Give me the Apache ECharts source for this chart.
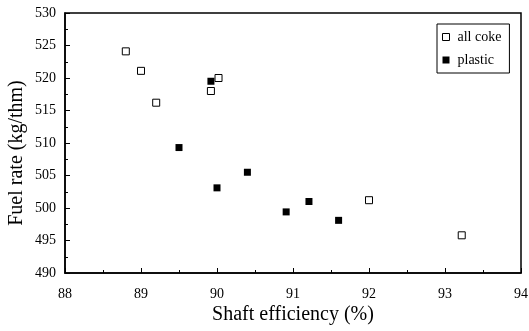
<!DOCTYPE html>
<html><head><meta charset="utf-8">
<script src="https://cdn.jsdelivr.net/npm/echarts@6/dist/echarts.min.js"></script>
<style>html,body{margin:0;padding:0;background:#fff}#c{width:529px;height:331px}</style>
</head><body><div id="c"></div>
<script>
const allCokeX = [88.8, 89.0, 89.2, 89.92, 90.02, 92.0, 93.22];
const allCokeY = [524.1, 521.1, 516.2, 518.0, 520.0, 501.2, 495.8];
const plasticX = [89.92, 89.5, 90.0, 90.4, 90.91, 91.21, 91.6];
const plasticY = [519.5, 509.3, 503.1, 505.5, 499.4, 501.0, 498.1];
const xTicks = [88, 89, 90, 91, 92, 93, 94];
const yTicks = [490, 495, 500, 505, 510, 515, 520, 525, 530];

const F = 'Liberation Serif';
const chart = echarts.init(document.getElementById('c'), null, {renderer: 'canvas'});
const zip = (a, b) => a.map((v, i) => [v, b[i]]);
chart.setOption({
  animation: false,
  backgroundColor: '#fff',
  grid: {left: 65, right: 8, top: 13, bottom: 58, show: true, borderColor: '#000', borderWidth: 1.5,
         containLabel: false, outerBoundsMode: 'none'},
  xAxis: {
    type: 'value', min: xTicks[0], max: xTicks[xTicks.length - 1], interval: 1,
    name: 'Shaft efficiency (%)', nameLocation: 'middle', nameGap: 32, nameMoveOverlap: false,
    nameTextStyle: {fontFamily: F, fontSize: 20, color: '#000'},
    axisLine: {lineStyle: {color: '#000', width: 1.5}},
    axisTick: {inside: true, length: 5, lineStyle: {color: '#000'}},
    minorTick: {show: true, splitNumber: 2, length: 3, lineStyle: {color: '#000'}},
    axisLabel: {fontFamily: F, fontSize: 14, color: '#000', margin: 14},
    splitLine: {show: false}
  },
  yAxis: {
    type: 'value', min: yTicks[0], max: yTicks[yTicks.length - 1], interval: 5,
    name: 'Fuel rate (kg/thm)', nameLocation: 'middle', nameGap: 38, nameMoveOverlap: false,
    nameTextStyle: {fontFamily: F, fontSize: 20, color: '#000', padding: [0, 20, 0, 0]},
    axisLine: {lineStyle: {color: '#000', width: 1.5}},
    axisTick: {inside: true, length: 5, lineStyle: {color: '#000'}},
    minorTick: {show: true, splitNumber: 2, length: 3, lineStyle: {color: '#000'}},
    axisLabel: {fontFamily: F, fontSize: 14, color: '#000', margin: 9},
    splitLine: {show: false}
  },
  legend: {
    orient: 'vertical', left: 437, top: 24, width: 60,
    borderColor: '#000', borderWidth: 1, padding: [6, 8, 6, 5],
    itemWidth: 7, itemHeight: 7, itemGap: 9,
    textStyle: {fontFamily: F, fontSize: 14, color: '#000', padding: [0, 0, 0, 3]},
    data: [
      {name: 'all coke', icon: 'rect', itemStyle: {color: '#fff', borderColor: '#000', borderWidth: 1}},
      {name: 'plastic', icon: 'rect', itemStyle: {color: '#000'}}
    ]
  },
  series: [
    {name: 'all coke', type: 'scatter', symbol: 'rect', symbolSize: 7,
     itemStyle: {color: '#fff', borderColor: '#000', borderWidth: 1, opacity: 1},
     data: zip(allCokeX, allCokeY)},
    {name: 'plastic', type: 'scatter', symbol: 'rect', symbolSize: 7,
     itemStyle: {color: '#000', opacity: 1},
     data: zip(plasticX, plasticY)}
  ]
});
</script></body></html>
